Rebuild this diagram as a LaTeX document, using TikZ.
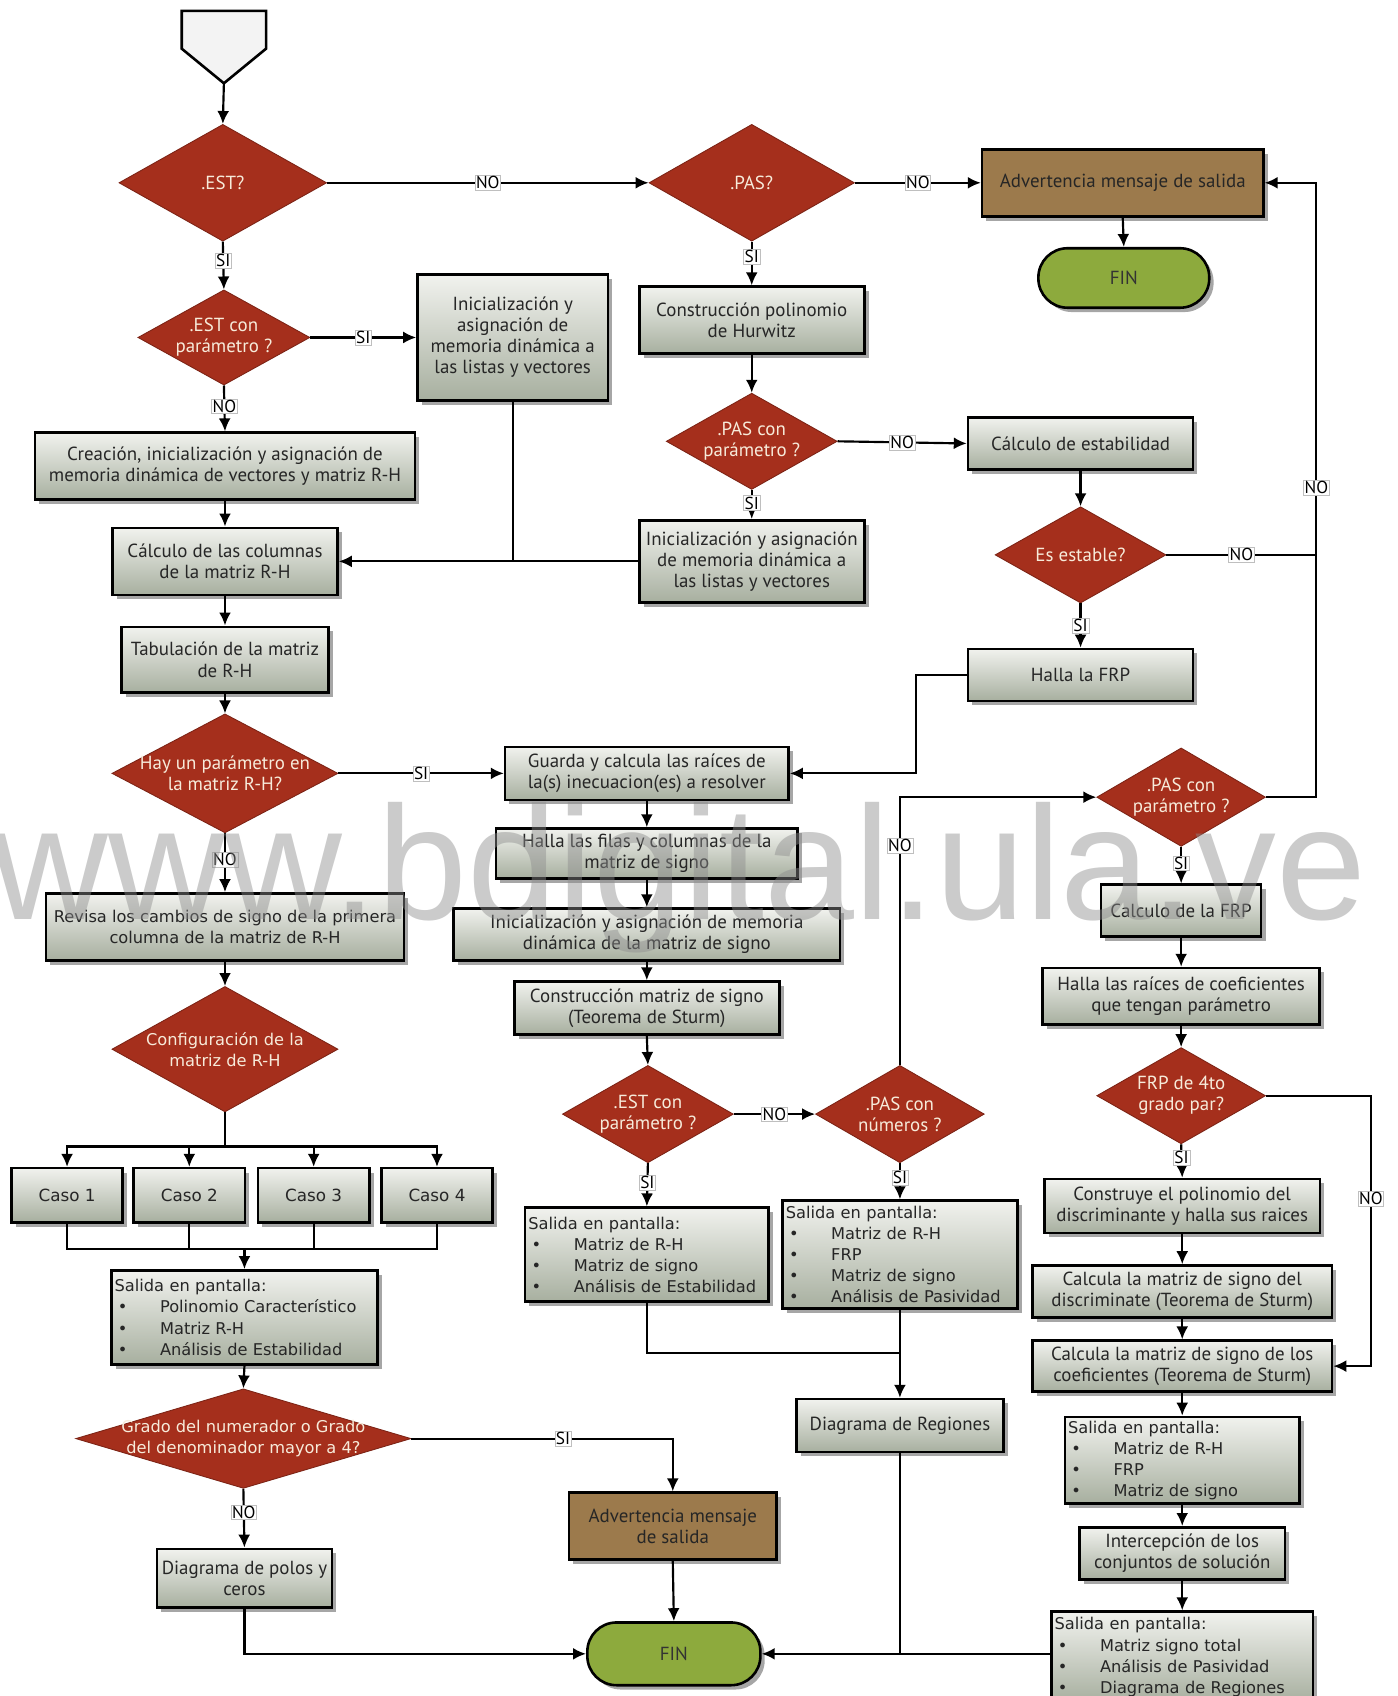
\documentclass[tikz,border=0pt]{standalone}
\usepackage{fontspec}
\setmainfont{PT Sans}
\newfontfamily\anchafont{DejaVu Sans}
\newfontfamily\marcafont{Liberation Sans}
\usetikzlibrary{shapes.geometric, shadows, arrows.meta}

\definecolor{rojodec}{HTML}{A52F1C}
\definecolor{letradec}{HTML}{F7EBDA}
\definecolor{cajaclaro}{HTML}{F1F2EE}
\definecolor{cajaoscuro}{HTML}{A7AF9F}
\definecolor{marron}{HTML}{9C7A4C}
\definecolor{verdefin}{HTML}{8DAA3D}
\definecolor{grisinicio}{HTML}{F3F3F3}

\newcommand{\vineta}{\hspace*{3pt}\makebox[39pt][l]{•}}

\tikzset{
  sombra/.style={drop shadow={shadow xshift=4pt, shadow yshift=-4pt, fill=black, opacity=0.35}},
  caja/.style={rectangle, draw=black, line width=2.4pt, top color=cajaclaro, bottom color=cajaoscuro,
    sombra, align=center, inner sep=3pt, text=black!85, font=\fontsize{17.5}{19.5}\selectfont},
  ancha/.style={font=\anchafont\fontsize{15}{19.5}\selectfont},
  salida/.style={caja, ancha, align=left, font=\anchafont\fontsize{15}{19.5}\selectfont},
  aviso/.style={caja, top color=marron, bottom color=marron},
  fin/.style={rectangle, rounded corners=27pt, draw=black, line width=2.4pt, fill=verdefin, sombra,
    text=black!80, font=\fontsize{17.5}{19.5}\selectfont},
  decision/.style={diamond, draw=rojodec!75!black, line width=0.8pt, fill=rojodec, inner sep=0pt},
  texdec/.style={text=letradec, align=center, font=\fontsize{17.5}{19.5}\selectfont},
  etiq/.style={fill=white, draw=black!25, line width=0.4pt, inner sep=1pt, font=\fontsize{16}{16}\selectfont},
  linea/.style={line width=2pt},
  flecha/.style={linea, -{Latex[length=12pt, width=11pt]}},
}

\begin{document}
\begin{tikzpicture}[x=1pt, y=-1pt]
\useasboundingbox (0,0) rectangle (1292,1568);
\fill[white] (0,0) rectangle (1292,1568);

% inicio
\draw[line width=2.4pt, fill=grisinicio] (168,10) -- (246,10) -- (246,45) -- (207,77) -- (168,45) -- cycle;
\coordinate (inicio) at (207,77);

% columna izquierda
\node[decision, minimum width=192pt, minimum height=108pt, label={[texdec]center:{.EST?}}] (est) at (206,169) {};
\node[decision, minimum width=159pt, minimum height=88pt, label={[texdec]center:{.EST con\\parámetro ?}}] (estpar) at (207,312) {};
\node[caja, minimum width=176pt, minimum height=116pt] (ini1) at (474,312) {Inicialización y\\asignación de\\memoria dinámica a\\las listas y vectores};
\node[caja, minimum width=351pt, minimum height=62pt] (crea) at (208,431) {Creación, inicialización y asignación de\\memoria dinámica de vectores y matriz R-H};
\node[caja, minimum width=208pt, minimum height=62pt] (calcol) at (208,519) {Cálculo de las columnas\\de la matriz R-H};
\node[caja, minimum width=191pt, minimum height=61pt] (tab) at (208,610) {Tabulación de la matriz\\de R-H};
\node[decision, minimum width=209pt, minimum height=110pt, label={[texdec]center:{Hay un parámetro en\\la matriz R-H?}}] (hay) at (208,715) {};
\node[caja, ancha, minimum width=331pt, minimum height=62pt] (revisa) at (208,857) {Revisa los cambios de signo de la primera\\columna de la matriz de R-H};
\node[decision, minimum width=209pt, minimum height=116pt, label={[texdec, font=\anchafont\fontsize{15}{19.5}\selectfont]center:{Configuración de la\\matriz de R-H}}] (config) at (208,970) {};
\node[caja, ancha, font=\anchafont\fontsize{15.5}{19}\selectfont, minimum width=103pt, minimum height=50pt] (caso1) at (62,1105) {Caso 1};
\node[caja, ancha, font=\anchafont\fontsize{15.5}{19}\selectfont, minimum width=103pt, minimum height=50pt] (caso2) at (175,1105) {Caso 2};
\node[caja, ancha, font=\anchafont\fontsize{15.5}{19}\selectfont, minimum width=103pt, minimum height=50pt] (caso3) at (290,1105) {Caso 3};
\node[caja, ancha, font=\anchafont\fontsize{15.5}{19}\selectfont, minimum width=103pt, minimum height=50pt] (caso4) at (404,1105) {Caso 4};
\node[salida, text width=240pt, minimum height=87pt] (sal1) at (226,1218) {Salida en pantalla:\\\vineta Polinomio Característico\\\vineta Matriz R-H\\\vineta Análisis de Estabilidad};
\node[decision, minimum width=310pt, minimum height=92pt, label={[texdec, font=\anchafont\fontsize{15}{19.5}\selectfont]center:{Grado del numerador o Grado\\del denominador mayor a 4?}}] (grado) at (225,1330) {};
\node[aviso, minimum width=192pt, minimum height=62pt] (adv2) at (622,1411) {Advertencia mensaje\\de salida};
\node[fin, minimum width=160pt, minimum height=58pt] (fin2) at (623,1529) {FIN};
\node[caja, minimum width=162pt, minimum height=54pt] (polos) at (226,1459) {Diagrama de polos y\\ceros};

% columna central
\node[decision, minimum width=190pt, minimum height=108pt, label={[texdec]center:{.PAS?}}] (pas) at (695,169) {};
\node[aviso, minimum width=260pt, minimum height=62pt] (adv1) at (1038,169) {Advertencia mensaje de salida};
\node[fin, minimum width=158pt, minimum height=55pt] (fin1) at (1039,257) {FIN};
\node[caja, minimum width=208pt, minimum height=62pt] (const) at (695,296) {Construcción polinomio\\de Hurwitz};
\node[decision, minimum width=158pt, minimum height=89pt, label={[texdec]center:{.PAS con\\parámetro ?}}] (paspar) at (695,408) {};
\node[caja, minimum width=208pt, minimum height=76pt] (ini2) at (695,519) {Inicialización y asignación\\de memoria dinámica a\\las listas y vectores};
\node[caja, minimum width=262pt, minimum height=49pt] (guarda) at (598,715) {Guarda y calcula las raíces de\\la(s) inecuacion(es) a resolver};
\node[caja, minimum width=279pt, minimum height=46pt] (filas) at (598,789) {Halla las filas y columnas de la\\matriz de signo};
\node[caja, minimum width=357pt, minimum height=48pt] (ini3) at (598,864) {Inicialización y asignación de memoria\\dinámica de la matriz de signo};
\node[caja, minimum width=245pt, minimum height=49pt] (consig) at (598,932) {Construcción matriz de signo\\(Teorema de Sturm)};
\node[decision, minimum width=158pt, minimum height=90pt, label={[texdec]center:{.EST con\\parámetro ?}}] (estpar2) at (599,1030) {};
\node[decision, minimum width=156pt, minimum height=90pt, label={[texdec]center:{.PAS con\\números ?}}] (pasnum) at (832,1030) {};
\node[salida, text width=219pt, minimum height=87pt] (sal2) at (598,1160) {Salida en pantalla:\\\vineta Matriz de R-H\\\vineta Matriz de signo\\\vineta Análisis de Estabilidad};
\node[salida, text width=211pt, minimum height=100pt] (sal3) at (832,1160) {Salida en pantalla:\\\vineta Matriz de R-H\\\vineta FRP\\\vineta Matriz de signo\\\vineta Análisis de Pasividad};
\node[caja, minimum width=191pt, minimum height=49pt] (regiones) at (832,1318) {Diagrama de Regiones};

% columna derecha
\node[caja, minimum width=208pt, minimum height=48pt] (estab) at (999,410) {Cálculo de estabilidad};
\node[decision, minimum width=158pt, minimum height=89pt, label={[texdec]center:{Es estable?}}] (esest) at (999,513) {};
\node[caja, minimum width=208pt, minimum height=48pt] (frp) at (999,624) {Halla la FRP};
\node[decision, minimum width=156pt, minimum height=91pt, label={[texdec]center:{.PAS con\\parámetro ?}}] (paspar2) at (1092,737) {};
\node[caja, minimum width=148pt, minimum height=48pt] (calfrp) at (1092,842) {Calculo de la FRP};
\node[caja, minimum width=256pt, minimum height=52pt] (raices) at (1092,921) {Halla las raíces de coeficientes\\que tengan parámetro};
\node[decision, minimum width=156pt, minimum height=89pt, label={[texdec]center:{FRP de 4to\\grado par?}}] (frp4) at (1092,1013) {};
\node[caja, minimum width=255pt, minimum height=50pt] (constr) at (1093,1115) {Construye el polinomio del\\discriminante y halla sus raices};
\node[caja, minimum width=277pt, minimum height=48pt] (discr) at (1093,1194) {Calcula la matriz de signo del\\discriminate (Teorema de Sturm)};
\node[caja, minimum width=277pt, minimum height=47pt] (coef) at (1093,1263) {Calcula la matriz de signo de los\\coeficientes (Teorema de Sturm)};
\node[salida, text width=211pt, minimum height=80pt] (sal4) at (1093,1350) {Salida en pantalla:\\\vineta Matriz de R-H\\\vineta FRP\\\vineta Matriz de signo};
\node[caja, minimum width=190pt, minimum height=48pt] (inter) at (1093,1436) {Intercepción de los\\conjuntos de solución};
\node[salida, text width=236pt, minimum height=84pt] (sal5) at (1093,1532) {Salida en pantalla:\\\vineta Matriz signo total\\\vineta Análisis de Pasividad\\\vineta Diagrama de Regiones};

% conectores izquierda
\draw[flecha] (inicio) -- (est.north);
\draw[flecha] (est.east) -- node[etiq]{NO} (pas.west);
\draw[flecha] (est.south) -- node[etiq, pos=0.4]{SI} (estpar.north);
\draw[flecha] (estpar.east) -- node[etiq]{SI} (ini1.west);
\draw[flecha] (estpar.south) -- node[etiq, pos=0.45]{NO} (crea.north);
\draw[flecha] (crea.south) -- (calcol.north);
\draw[linea] (ini1.south) -- (ini1.south |- calcol.east);
\draw[flecha] (ini2.west) -- (calcol.east);
\draw[flecha] (calcol.south) -- (tab.north);
\draw[flecha] (tab.south) -- (hay.north);
\draw[flecha] (hay.east) -- node[etiq]{SI} (guarda.west);
\draw[flecha] (hay.south) -- node[etiq, pos=0.45]{NO} (revisa.north);
\draw[flecha] (revisa.south) -- (config.north);
\coordinate (rama) at (208,1060);
\coordinate (junta) at (226,1155);
\draw[linea] (config.south) -- (rama);
\foreach \c in {caso1,caso2,caso3,caso4} {
  \draw[flecha] (rama) -| (\c.north);
  \draw[linea] (\c.south) |- (junta);
}
\draw[flecha] (junta) -- (sal1.north);
\draw[flecha] (sal1.south) -- (grado.north);
\draw[flecha] (grado.east) -| node[etiq, pos=0.29]{SI} (adv2.north);
\draw[flecha] (adv2.south) -- (fin2.north);
\draw[flecha] (grado.south) -- node[etiq, pos=0.4]{NO} (polos.north);
\draw[flecha] (polos.south) |- (fin2.west);

% conectores centro
\draw[flecha] (pas.east) -- node[etiq]{NO} (adv1.west);
\draw[flecha] (adv1.south) -- (fin1.north);
\draw[flecha] (pas.south) -- node[etiq, pos=0.35]{SI} (const.north);
\draw[flecha] (const.south) -- (paspar.north);
\draw[flecha] (paspar.east) -- node[etiq]{NO} (estab.west);
\draw[flecha] (paspar.south) -- node[etiq, pos=0.45]{SI} (ini2.north);
\draw[flecha] (guarda.south) -- (filas.north);
\draw[flecha] (filas.south) -- (ini3.north);
\draw[flecha] (ini3.south) -- (consig.north);
\draw[flecha] (consig.south) -- (estpar2.north);
\draw[flecha] (estpar2.east) -- node[etiq]{NO} (pasnum.west);
\draw[flecha] (estpar2.south) -- node[etiq, pos=0.45]{SI} (sal2.north);
\draw[flecha] (pasnum.south) -- node[etiq, pos=0.4]{SI} (sal3.north);
\draw[flecha] (pasnum.north) |- node[etiq, pos=0.41]{NO} (paspar2.west);
\coordinate (union) at (832,1251);
\draw[linea] (sal2.south) |- (union);
\draw[flecha] (sal3.south) -- (regiones.north);
\draw[flecha] (regiones.south) |- (fin2.east);
\draw[linea] (sal5.west |- fin2.east) -- (regiones.south |- fin2.east);

% conectores derecha
\coordinate (linea) at (1217,169);
\draw[flecha] (estab.south) -- (esest.north);
\draw[flecha] (esest.east) -- node[etiq]{NO} (esest.east -| linea) -- node[etiq, pos=0.18]{NO} (linea) -- (adv1.east);
\draw[linea] (paspar2.east) -- (paspar2.east -| linea) -- (esest.east -| linea);
\draw[flecha] (esest.south) -- node[etiq, pos=0.5]{SI} (frp.north);
\draw[flecha] (frp.west) -- ++(-47,0) |- (guarda.east);
\draw[flecha] (paspar2.south) -- node[etiq, pos=0.45]{SI} (calfrp.north);
\draw[flecha] (calfrp.south) -- (raices.north);
\draw[flecha] (raices.south) -- (frp4.north);
\draw[flecha] (frp4.east) -- ++(97,0) |- node[etiq, pos=0.19]{NO} (coef.east);
\draw[flecha] (frp4.south) -- node[etiq, pos=0.4]{SI} (constr.north);
\draw[flecha] (constr.south) -- (discr.north);
\draw[flecha] (discr.south) -- (coef.north);
\draw[flecha] (coef.south) -- (sal4.north);
\draw[flecha] (sal4.south) -- (inter.north);
\draw[flecha] (inter.south) -- (sal5.north);

% marca de agua
\node[text=black!45, opacity=0.45, anchor=base west, inner sep=0pt,
  font=\marcafont\fontsize{149.5}{150}\selectfont] (marca) at (-8,850) {www.bdigital.ula.ve};
\end{tikzpicture}
\end{document}
